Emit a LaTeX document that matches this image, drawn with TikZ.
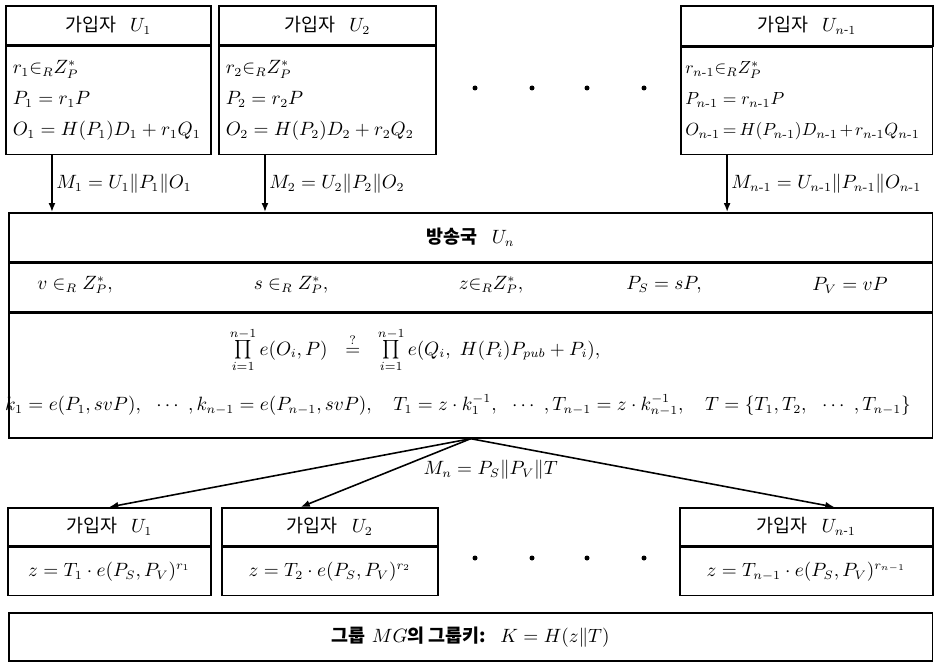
\documentclass[tikz,border=0pt]{standalone}
\usepackage{amsmath,amssymb}
\usepackage{fontspec}
\newfontfamily\krfont{Noto Sans CJK KR}
\usetikzlibrary{arrows.meta,positioning,calc}
\newcommand\dfont{\fontsize{10.5}{13}\selectfont}
\newcommand\nmo{n\text{-}1}
\newcommand\hgap{\hspace{8pt}}
\tikzset{
  % Member / broadcaster boxes: header on top, formulas below
  hdrbox/.style={draw, rectangle, line width=0.9pt, inner sep=0pt, anchor=north west, font=\dfont},
  bodybox/.style={draw, rectangle, line width=0.9pt, inner xsep=4pt, inner ysep=0pt,
                  align=left, font=\fontsize{10.5}{17.6}\selectfont},
  keybox/.style={draw, rectangle, line width=0.9pt, inner sep=0pt, font=\dfont},
  mtext/.style={font=\dfont, inner sep=1pt},
  % Arrows
  msgarr/.style={-{Latex[length=1.8mm,width=1.4mm]}, line width=0.9pt},
  msglbl/.style={font=\dfont, inner sep=2pt}
}

\begin{document}
\begin{tikzpicture}[x=0.02cm, y=-0.02cm]
\useasboundingbox (0,0) rectangle (935,662);

% ============== TOP: members U_1 ... U_{n-1} ==============
\node[hdrbox, minimum width=4.1cm, minimum height=0.78cm] (u1h) at (5,5) {\krfont 가입자\hgap $U_1$};
\node[bodybox, text width=3.82cm, minimum height=2.16cm, below=0pt of u1h] (u1b)
  {$r_1{\in_R} Z_P^{*}$\\ $P_1 = r_1P$\\ $O_1 = H(P_1)D_1 + r_1Q_1$};

\node[hdrbox, minimum width=4.34cm, minimum height=0.78cm] (u2h) at (218,5) {\krfont 가입자\hgap $U_2$};
\node[bodybox, text width=4.06cm, minimum height=2.16cm, below=0pt of u2h] (u2b)
  {$r_2{\in_R} Z_P^{*}$\\ $P_2 = r_2P$\\ $O_2 = H(P_2)D_2 + r_2Q_2$};

\node[hdrbox, minimum width=5.04cm, minimum height=0.8cm] (unh) at (680,5) {\krfont 가입자\hgap $U_{\nmo}$};
\node[bodybox, text width=4.86cm, inner xsep=2.5pt, minimum height=2.14cm, below=0pt of unh,
      font=\fontsize{10}{17.6}\selectfont] (unb)
  {$r_{\nmo}{\in_R} Z_P^{*}$\\ $P_{\nmo} = r_{\nmo}P$\\
   \makebox[4.86cm][l]{$\thickmuskip=3mu \medmuskip=2mu O_{\nmo} = H(P_{\nmo})D_{\nmo} + r_{\nmo}Q_{\nmo}$}};

\foreach \x in {475,532,587,644}
  \fill (\x,88) circle (0.05cm);

% ============== MIDDLE: broadcaster U_n ==============
\node[hdrbox, minimum width=18.48cm, minimum height=0.98cm] (bch) at (8,212) {\krfont\bfseries 방송국\hgap\normalfont $U_n$};
\node[keybox, minimum width=18.48cm, minimum height=0.96cm, below=0pt of bch] (bcr) {};
\node[keybox, minimum width=18.48cm, minimum height=2.5cm, below=0pt of bcr] (bcc) {};

\node[mtext] (rv) at (75,285) {$v \in_R Z_P^{*},$};
\node[mtext] (rs) at (291,285) {$s \in_R Z_P^{*},$};
\node[mtext] (rz) at (491,285) {$z{\in_R} Z_P^{*},$};
\node[mtext] (rps) at (664,285) {$P_S = sP,$};
\node[mtext] (rpv) at (850,285) {$P_V = vP$};

\node[mtext] (chk) at (415,350)
  {$\prod\limits_{i=1}^{n-1} e(O_i,P)\ \ \overset{?}{=}\ \ \prod\limits_{i=1}^{n-1} e(Q_i,\ H(P_i)P_{pub}+P_i),$};
\node[mtext] (keys) at (458,405)
  {$k_1 = e(P_1,svP),\ \ \cdots\ ,k_{n-1} = e(P_{n-1},svP),\quad T_1 = z\cdot k_1^{-1},\ \ \cdots\ ,T_{n-1} = z\cdot k_{n-1}^{-1},\quad T=\{T_1,T_2,\ \ \cdots\ ,T_{n-1}\}$};

% messages up to the broadcaster
\foreach \b/\m [count=\i] in {u1b/{M_1 = U_1\|P_1\|O_1}, u2b/{M_2 = U_2\|P_2\|O_2}, unb/{M_{\nmo} = U_{\nmo}\|P_{\nmo}\|O_{\nmo}}} {
  \coordinate (a\i) at ($(\b.south west)+(47,0)$);
  \draw[msgarr] (a\i) -- (a\i |- bch.north) node[msglbl, midway, right] {$\m$};
}

% ============== BOTTOM: members receive M_n ==============
\node[hdrbox, minimum width=4.06cm, minimum height=0.76cm] (v1h) at (7,507) {\krfont 가입자\hgap $U_1$};
\node[keybox, minimum width=4.06cm, minimum height=0.96cm, below=0pt of v1h] (v1b) {$z = T_1\cdot e(P_S,P_V)^{r_1}$};

\node[hdrbox, minimum width=4.32cm, minimum height=0.76cm] (v2h) at (221,507) {\krfont 가입자\hgap $U_2$};
\node[keybox, minimum width=4.32cm, minimum height=0.96cm, below=0pt of v2h] (v2b) {$z = T_2\cdot e(P_S,P_V)^{r_2}$};

\node[hdrbox, minimum width=5.06cm, minimum height=0.76cm] (vnh) at (679,507) {\krfont 가입자\hgap $U_{\nmo}$};
\node[keybox, minimum width=5.06cm, minimum height=0.96cm, below=0pt of vnh] (vnb) {$z = T_{n-1}\cdot e(P_S,P_V)^{r_{n-1}}$};

\foreach \x in {475,532,587,644}
  \fill (\x,558) circle (0.05cm);

\draw[msgarr] (bcc.south) -- (v1h.north);
\draw[msgarr] (bcc.south) -- ([xshift=-0.58cm]v2h.north);
\draw[msgarr] (bcc.south) -- ([xshift=0.56cm]vnh.north);
\node[msglbl] (mn) at ($(bcc.south)+(20,31)$) {$M_n = P_S\|P_V\|T$};

% group key
\node[hdrbox, minimum width=18.48cm, minimum height=0.96cm] (grp) at (8,612)
  {{\krfont\bfseries 그룹} $MG${\krfont\bfseries 의 그룹키:}\hgap $K = H(z\|T)$};

\end{tikzpicture}
\end{document}
